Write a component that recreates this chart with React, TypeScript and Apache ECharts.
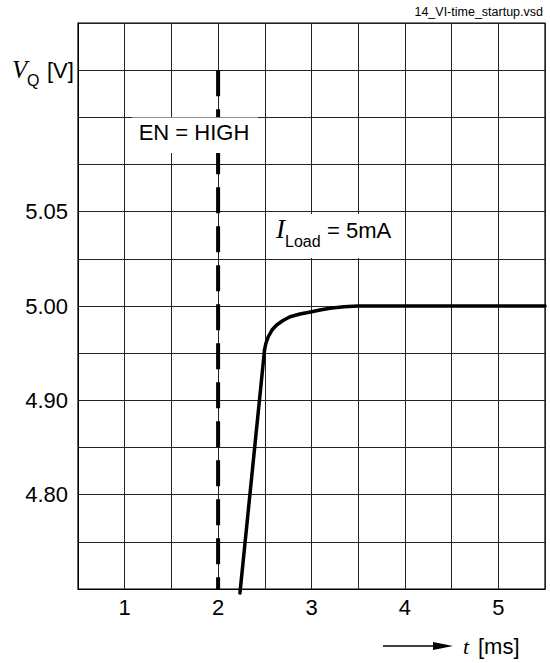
import React, { useEffect, useRef } from "react";
import * as echarts from "echarts";

// ---- data ----
const xTickValues = [1, 2, 3, 4, 5]; // ms, labelled ticks
const yTickIndex = [2, 4, 6, 8]; // grid-line index from the bottom
const yTickText = ["4.80", "4.90", "5.00", "5.05"];

const rampT = [2.234, 2.497];
const rampV = [4.6958, 4.9534];

const settleT = [2.497, 2.513, 2.537, 2.577, 2.627, 2.695, 2.77, 2.877, 3.002, 3.091, 3.198, 3.348, 3.498, 5.5];
const settleV = [4.9534, 4.9608, 4.9674, 4.9745, 4.9799, 4.9846, 4.9886, 4.9915, 4.994, 4.9957, 4.9976, 4.9991, 5.0, 5.0];

const enableT = [2, 2];
const enableV = [5.125, 4.7];

// non-uniform voltage scale of the original plot -> grid-line index
function toIdx(v: number): number {
  return v >= 5 ? 6 + (v - 5) / 0.025 : 6 + (v - 5) / 0.05;
}

const SANS = "Liberation Sans, Arial, sans-serif";
const SERIF = "Liberation Serif, Times New Roman, serif";

export default function App() {
  const ref = useRef<HTMLDivElement>(null);

  useEffect(() => {
    if (!ref.current) return;
    const chart = echarts.init(ref.current, undefined, { renderer: "svg" });

    const pairs = (ts: number[], vs: number[]) => ts.map((t, i) => [t, toIdx(vs[i])]);

    chart.setOption({
      animation: false,
      backgroundColor: "#fff",
      grid: {
        left: 78,
        right: 5,
        top: 23,
        bottom: 74,
        show: true,
        borderColor: "#000",
        borderWidth: 1.2,
        backgroundColor: "transparent",
      },
      xAxis: {
        type: "value",
        min: 0.5,
        max: 5.5,
        interval: 0.5,
        axisLine: { show: true, lineStyle: { color: "#000", width: 1 } },
        axisTick: { show: false },
        splitLine: { show: true, lineStyle: { color: "#222", width: 1 } },
        axisLabel: {
          margin: 7,
          color: "#000",
          fontFamily: SANS,
          fontSize: 22,
          formatter: (v: number) => (xTickValues.indexOf(v) >= 0 ? String(v) : ""),
        },
      },
      yAxis: {
        type: "value",
        min: 0,
        max: 12,
        interval: 1,
        axisLine: { show: true, lineStyle: { color: "#000", width: 1 } },
        axisTick: { show: false },
        splitLine: { show: true, lineStyle: { color: "#222", width: 1 } },
        axisLabel: {
          margin: 10,
          color: "#000",
          fontFamily: SANS,
          fontSize: 22,
          formatter: (v: number) => {
            const k = yTickIndex.indexOf(v);
            return k >= 0 ? yTickText[k] : "";
          },
        },
      },
      series: [
        {
          type: "line",
          data: pairs(enableT, enableV),
          showSymbol: false,
          clip: false,
          lineStyle: { color: "#000", width: 4, type: [26, 13] },
          z: 3,
        },
        {
          type: "line",
          data: pairs(rampT, rampV),
          showSymbol: false,
          clip: false,
          lineStyle: { color: "#000", width: 3.5, cap: "round" },
          z: 4,
        },
        {
          type: "line",
          data: pairs(settleT, settleV),
          showSymbol: false,
          smooth: false,
          clip: false,
          lineStyle: { color: "#000", width: 3.5, cap: "round", join: "round" },
          z: 4,
        },
      ],
      graphic: [
        {
          type: "text",
          z: 100,
          x: 543,
          y: 12,
          style: {
            text: "14_VI-time_startup.vsd",
            fill: "#000",
            font: `12.5px ${SANS}`,
            align: "right",
            verticalAlign: "middle",
          },
        },
        {
          type: "rect",
          z: 100,
          shape: { x: 132, y: 117.5, width: 126, height: 35.5 },
          style: { fill: "#fff" },
        },
        {
          type: "text",
          z: 101,
          x: 194,
          y: 132,
          style: {
            text: "EN = HIGH",
            fill: "#000",
            font: `22px ${SANS}`,
            align: "center",
            verticalAlign: "middle",
          },
        },
        {
          type: "rect",
          z: 100,
          shape: { x: 268, y: 214, width: 128, height: 44 },
          style: { fill: "#fff" },
        },
        {
          type: "text",
          z: 101,
          x: 276,
          y: 229,
          style: { text: "I", fill: "#000", font: `italic 27px ${SERIF}`, align: "left", verticalAlign: "middle" },
        },
        {
          type: "text",
          z: 101,
          x: 285,
          y: 241,
          style: { text: "Load", fill: "#000", font: `16px ${SANS}`, align: "left", verticalAlign: "middle" },
        },
        {
          type: "text",
          z: 101,
          x: 327,
          y: 230,
          style: { text: "= 5mA", fill: "#000", font: `22px ${SANS}`, align: "left", verticalAlign: "middle" },
        },
        {
          type: "text",
          z: 100,
          x: 12,
          y: 69,
          style: { text: "V", fill: "#000", font: `italic 25px ${SERIF}`, align: "left", verticalAlign: "middle" },
        },
        {
          type: "text",
          z: 100,
          x: 27,
          y: 80,
          style: { text: "Q", fill: "#000", font: `16px ${SANS}`, align: "left", verticalAlign: "middle" },
        },
        {
          type: "text",
          z: 100,
          x: 47,
          y: 70,
          style: { text: "[V]", fill: "#000", font: `22px ${SANS}`, align: "left", verticalAlign: "middle" },
        },
        {
          type: "line",
          z: 100,
          shape: { x1: 383, y1: 646, x2: 440, y2: 646 },
          style: { stroke: "#000", lineWidth: 1.5 },
        },
        {
          type: "polygon",
          z: 100,
          shape: { points: [[433, 642], [453, 646], [433, 650]] },
          style: { fill: "#000" },
        },
        {
          type: "text",
          z: 100,
          x: 463,
          y: 646,
          style: { text: "t", fill: "#000", font: `italic 22px ${SERIF}`, align: "left", verticalAlign: "middle" },
        },
        {
          type: "text",
          z: 100,
          x: 478,
          y: 646,
          style: { text: "[ms]", fill: "#000", font: `22px ${SANS}`, align: "left", verticalAlign: "middle" },
        },
      ],
    });

    return () => chart.dispose();
  }, []);

  return (
    <div
      ref={ref}
      style={{ position: "absolute", left: 0, top: 0, width: 550, height: 663, background: "#fff" }}
    />
  );
}
